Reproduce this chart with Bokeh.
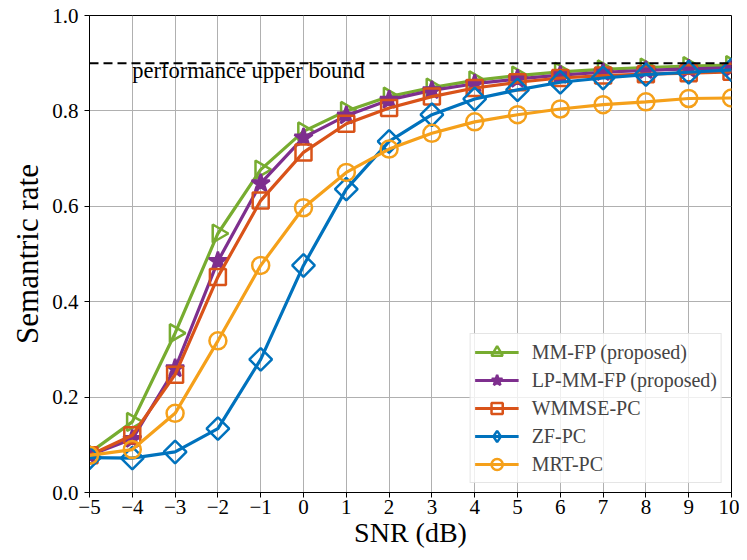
import numpy as np
from bokeh.plotting import figure
from bokeh.models import Legend, LegendItem, Span, Label, FixedTicker, NumeralTickFormatter, Range1d
from bokeh.embed import file_html
from bokeh.resources import INLINE

snr = list(range(-5, 11))
mm_fp = [0.083, 0.148, 0.334, 0.543, 0.677, 0.757, 0.800, 0.830, 0.849, 0.864, 0.874, 0.882, 0.887, 0.891, 0.894, 0.896]
lp_mm_fp = [0.078, 0.112, 0.260, 0.485, 0.648, 0.744, 0.790, 0.823, 0.843, 0.857, 0.867, 0.875, 0.881, 0.885, 0.888, 0.890]
wmmse_pc = [0.078, 0.120, 0.247, 0.452, 0.612, 0.713, 0.773, 0.806, 0.830, 0.848, 0.860, 0.869, 0.874, 0.877, 0.879, 0.882]
zf_pc = [0.073, 0.072, 0.085, 0.134, 0.279, 0.476, 0.636, 0.736, 0.792, 0.825, 0.844, 0.860, 0.869, 0.876, 0.881, 0.886]
mrt_pc = [0.078, 0.090, 0.166, 0.318, 0.476, 0.597, 0.671, 0.720, 0.753, 0.777, 0.792, 0.804, 0.813, 0.819, 0.826, 0.827]

upper_bound = 0.9
upper_bound_label = "performance upper bound"
label_x = -4
x_ticks = list(range(-5, 11))
y_ticks = [0.0, 0.2, 0.4, 0.6, 0.8, 1.0]

FONT = "Liberation Serif"

p = figure(width=739, height=552, output_backend="svg", toolbar_location=None,
           x_range=Range1d(-5, 10), y_range=Range1d(0, 1),
           min_border_left=89, min_border_right=8, min_border_top=15, min_border_bottom=60)

p.outline_line_color = "black"
p.outline_line_width = 1
p.background_fill_color = "white"

for ax in (p.xaxis[0], p.yaxis[0]):
    ax.axis_line_color = "black"
    ax.axis_line_width = 1
    ax.major_tick_line_color = "black"
    ax.major_tick_out = 5
    ax.major_tick_in = 0
    ax.minor_tick_line_color = None
    ax.major_label_text_font = FONT
    ax.major_label_text_font_size = "21px"
    ax.major_label_text_color = "black"
    ax.axis_label_text_font = FONT
    ax.axis_label_text_font_style = "normal"
    ax.axis_label_text_color = "black"

p.xaxis.axis_label_text_font_size = "28px"
p.yaxis.axis_label_text_font_size = "31px"
p.xaxis.ticker = FixedTicker(ticks=x_ticks)
p.xaxis.major_label_overrides = {t: (str(t).replace("-", "\u2212")) for t in x_ticks}
p.yaxis.ticker = FixedTicker(ticks=y_ticks)
p.yaxis.formatter = NumeralTickFormatter(format="0.0")
p.xaxis.axis_label = "SNR (dB)"
p.yaxis.axis_label = "Semantric rate"
p.xaxis.major_label_standoff = 2
p.yaxis.major_label_standoff = 6
p.xaxis.axis_label_standoff = 0
p.yaxis.axis_label_standoff = 4

p.xgrid.ticker = FixedTicker(ticks=x_ticks)
p.ygrid.ticker = FixedTicker(ticks=y_ticks)
p.grid.grid_line_color = "#b0b0b0"
p.grid.grid_line_width = 1

span = Span(location=upper_bound, dimension="width", line_color="black",
            line_width=2, line_dash="9 5")
p.add_layout(span)
p.add_layout(Label(x=label_x, y=upper_bound - 0.016, text=upper_bound_label,
                   text_font=FONT, text_font_size="22.5px", text_baseline="middle",
                   text_color="black"))

# name, values, colour, plot marker, angle, size, filled, legend marker
series = [
    ("MM-FP (proposed)", mm_fp, "#77AC30", "triangle", -np.pi / 2, 18, False, "triangle"),
    ("LP-MM-FP (proposed)", lp_mm_fp, "#7E2F8E", "star", 0, 19, True, "star"),
    ("WMMSE-PC", wmmse_pc, "#D95319", "square", 0, 16, False, "square"),
    ("ZF-PC", zf_pc, "#0072BD", "square", np.pi / 4, 16, False, "diamond"),
    ("MRT-PC", mrt_pc, "#F5A01A", "circle", 0, 17, False, "circle"),
]

items = []
for name, ys, color, marker, ang, size, filled, lmarker in series:
    lr = p.line(snr, ys, line_color=color, line_width=3.2)
    p.scatter(snr, ys, marker=marker, angle=ang, size=size,
              line_color=color, line_width=2.5,
              fill_color=color if filled else None)
    # legend-only marker (no data point drawn)
    lg = p.scatter([np.nan], [np.nan], marker=lmarker, size=size,
                   line_color=color, line_width=2.5,
                   fill_color=color if filled else None)
    items.append(LegendItem(label=name, renderers=[lr, lg]))

legend = Legend(items=items, location="bottom_right", margin=9,
                label_text_font=FONT, label_text_font_size="20px",
                glyph_width=44, glyph_height=28, label_height=20,
                label_standoff=13, spacing=0, padding=4,
                border_line_color="#cccccc", border_line_width=1,
                background_fill_color="white", background_fill_alpha=0.8)
p.add_layout(legend)

open("out.html", "w").write(file_html(p, INLINE))
